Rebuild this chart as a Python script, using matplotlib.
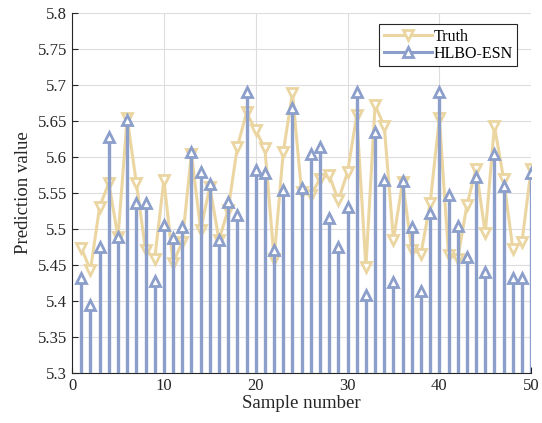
import matplotlib
matplotlib.use("Agg")
import matplotlib.pyplot as plt
from matplotlib.lines import Line2D
from matplotlib.legend_handler import HandlerLine2D
import numpy as np

# sample numbers 1..50
samples = list(range(1, 51))

truth = [5.474, 5.443, 5.531, 5.564, 5.489, 5.654, 5.564, 5.471, 5.459, 5.568,
         5.453, 5.482, 5.605, 5.499, 5.559, 5.485, 5.527, 5.614, 5.662, 5.637,
         5.612, 5.459, 5.607, 5.689, 5.551, 5.547, 5.570, 5.575, 5.540, 5.579,
         5.658, 5.447, 5.672, 5.643, 5.485, 5.566, 5.471, 5.466, 5.536, 5.654,
         5.464, 5.459, 5.533, 5.584, 5.494, 5.643, 5.570, 5.473, 5.482, 5.584]

hlbo_esn = [5.432, 5.394, 5.475, 5.628, 5.489, 5.651, 5.536, 5.536, 5.428, 5.505,
            5.488, 5.503, 5.607, 5.579, 5.562, 5.485, 5.537, 5.519, 5.690, 5.582,
            5.578, 5.471, 5.554, 5.668, 5.557, 5.605, 5.614, 5.515, 5.475, 5.531,
            5.690, 5.408, 5.635, 5.568, 5.426, 5.567, 5.503, 5.414, 5.522, 5.690,
            5.547, 5.504, 5.461, 5.573, 5.440, 5.604, 5.560, 5.432, 5.432, 5.578]

c_truth = "#EBD6A2"
c_pred = "#8C9FCB"


# legend marker sits towards the right end of the line, like matlab
class RightMarker(HandlerLine2D):
    def get_xdata(self, legend, xdescent, ydescent, width, height, fontsize):
        xdata = np.array([-xdescent, -xdescent + width])
        return xdata, np.array([-xdescent + 0.75 * width])


plt.rcParams["font.family"] = ["Liberation Serif", "DejaVu Serif"]

fig = plt.figure(figsize=(5.42, 4.23), dpi=100)
ax = fig.add_axes([0.133, 0.118, 0.847, 0.851])

# truth line with down triangles
ax.plot(samples, truth, color=c_truth, lw=2.2, marker="v", ms=7,
        mfc="white", mec=c_truth, mew=2, zorder=2)

# prediction as stems from the bottom
ax.vlines(samples, 5.3, hlbo_esn, color=c_pred, lw=2.4, zorder=3)
ax.plot(samples, hlbo_esn, ls="none", marker="^", ms=7,
        mfc="white", mec=c_pred, mew=2, zorder=4)

ax.set_xlim(0, 50)
ax.set_ylim(5.3, 5.8)
ax.set_xticks(np.arange(0, 51, 10))
ax.set_yticks(np.arange(5.3, 5.801, 0.05))
ax.set_yticklabels(["5.3", "5.35", "5.4", "5.45", "5.5", "5.55", "5.6",
                    "5.65", "5.7", "5.75", "5.8"])
ax.grid(True, color="#DDDDDD", lw=0.8)
ax.set_axisbelow(True)
for s in ["top", "right"]:
    ax.spines[s].set_visible(False)
ax.spines["left"].set_color("#262626")
ax.spines["bottom"].set_color("#262626")
ax.tick_params(direction="in", labelsize=12, colors="#262626", length=4)
ax.set_xlabel("Sample number", fontsize=13.5, color="#262626", labelpad=1)
ax.set_ylabel("Prediction value", fontsize=13.5, color="#262626", labelpad=4)

h1 = Line2D([], [], color=c_truth, lw=2.2, marker="v", ms=7, mfc="white", mec=c_truth, mew=2)
h2 = Line2D([], [], color=c_pred, lw=2.2, marker="^", ms=7, mfc="white", mec=c_pred, mew=2)
leg = ax.legend([h1, h2], ["Truth", "HLBO-ESN"], loc="upper right",
                bbox_to_anchor=(0.97, 0.97), borderaxespad=0, fontsize=11.5,
                fancybox=False, framealpha=1, edgecolor="#262626",
                borderpad=0.3, labelspacing=0.05, handlelength=3.0,
                handletextpad=0.1, handler_map={Line2D: RightMarker()})
leg.get_frame().set_linewidth(0.8)

fig.savefig("out.png", dpi=100)
